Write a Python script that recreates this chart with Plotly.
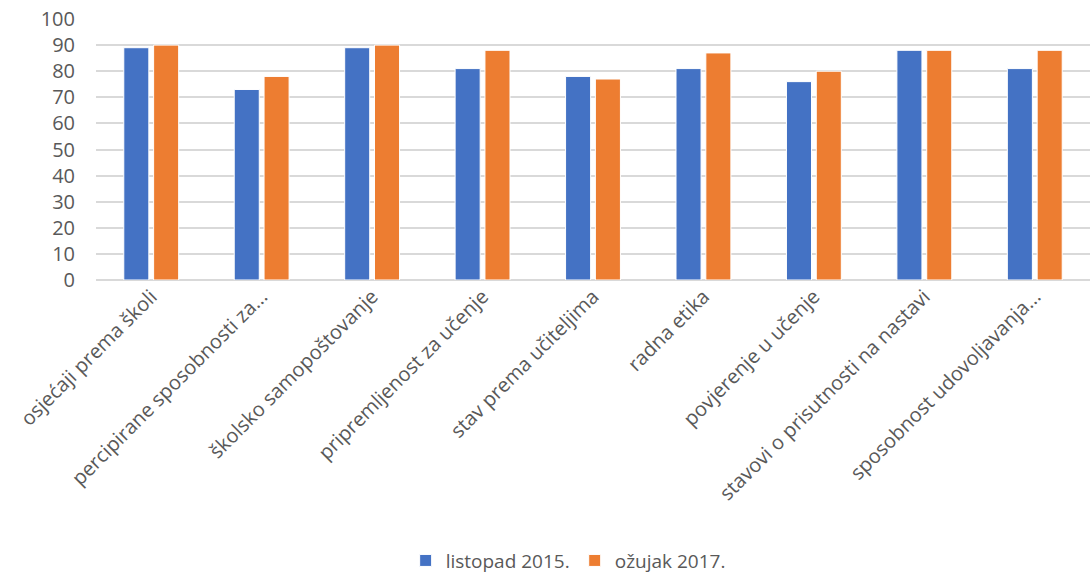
import plotly.graph_objects as go

# ==========================================
# DATA
# ==========================================

categories = [
    "osjećaji prema školi",
    "percipirane sposobnosti za...",
    "školsko samopoštovanje",
    "pripremljenost za učenje",
    "stav prema učiteljima",
    "radna etika",
    "povjerenje u učenje",
    "stavovi o prisutnosti na nastavi",
    "sposobnost udovoljavanja...",
]

listopad_2015 = [89, 73, 89, 81, 78, 81, 76, 88, 81]
ozujak_2017 = [90, 78, 90, 88, 77, 87, 80, 88, 88]

y_ticks = [0, 10, 20, 30, 40, 50, 60, 70, 80, 90, 100]

# ==========================================
# FIGURE
# ==========================================

fig = go.Figure()

fig.add_trace(
    go.Bar(
        x=categories,
        y=listopad_2015,
        name="listopad 2015.",
        marker=dict(color="#4472c4", line=dict(color="#ffffff", width=1))
    )
)

fig.add_trace(
    go.Bar(
        x=categories,
        y=ozujak_2017,
        name="ožujak 2017.",
        marker=dict(color="#ed7d31", line=dict(color="#ffffff", width=1))
    )
)

fig.update_layout(
    width=1090,
    height=579,
    margin=dict(l=96, r=0, t=19, b=299, autoexpand=False),
    plot_bgcolor="white",
    paper_bgcolor="white",
    barmode="group",
    bargap=0.46,
    bargroupgap=0.16,
    font=dict(family="Open Sans", color="#595959"),
    legend=dict(
        orientation="h",
        x=0.475,
        xanchor="center",
        y=-1.075,
        yanchor="middle",
        font=dict(size=19, family="Open Sans", color="#595959"),
        itemwidth=30,
        traceorder="normal"
    ),
    xaxis=dict(
        tickangle=-45,
        tickfont=dict(size=20, family="Open Sans"),
        showgrid=False,
        showline=False,
        ticks="",
        automargin=False
    ),
    yaxis=dict(
        range=[0, 100],
        tickvals=y_ticks,
        tickfont=dict(size=20, family="Open Sans"),
        showgrid=True,
        gridcolor="#d9d9d9",
        gridwidth=1.5,
        zeroline=True,
        zerolinecolor="#d9d9d9",
        zerolinewidth=1.5,
        ticks="",
        ticklabelstandoff=20,
        automargin=False
    )
)

fig.write_html(
    "out.html",
    config={"displayModeBar": False},
    post_script="document.body.style.margin='0';"
)
